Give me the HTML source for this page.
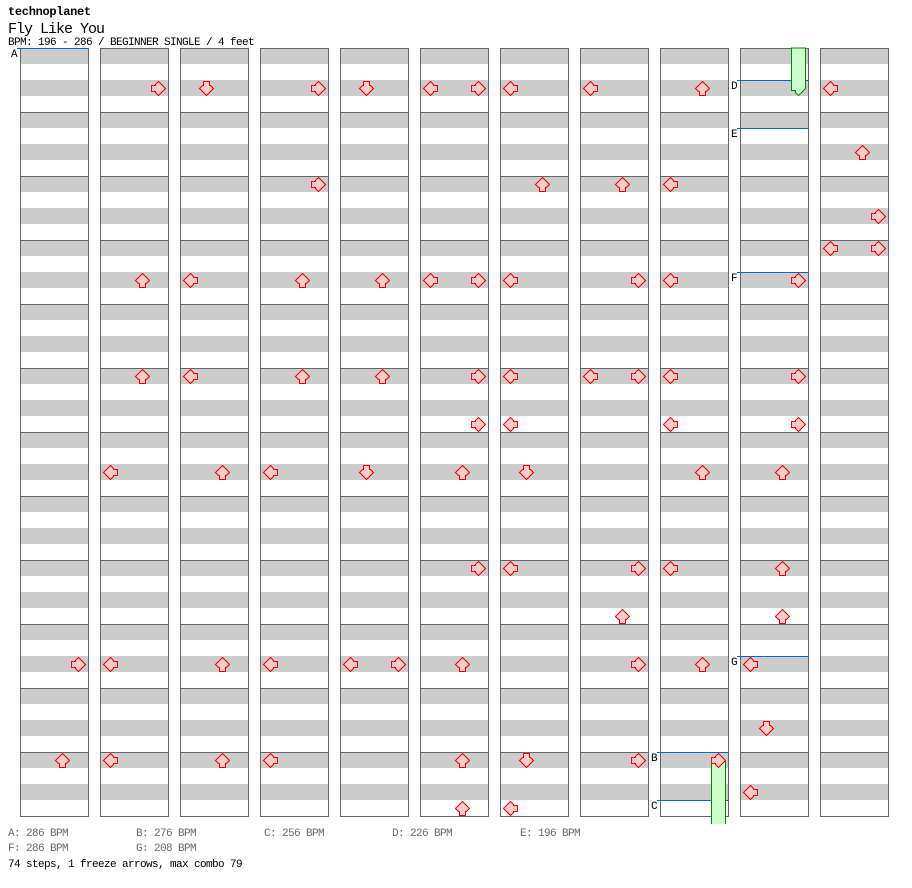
<!DOCTYPE html>
<html><head><meta charset="utf-8"><style>
html,body{margin:0;padding:0;background:#fff;}
svg{display:block;}
text{font-family:"Liberation Mono",monospace;}
</style></head><body>
<svg width="912" height="888" viewBox="0 0 912 888" xmlns="http://www.w3.org/2000/svg">
<defs>
<polygon id="U" points="7.5,0.5 14.5,7.5 11.5,10.5 10.5,10.5 10.5,14.5 4.5,14.5 4.5,10.5 3.5,10.5 0.5,7.5" fill="#ffcccc" stroke="#ff0000" stroke-width="1" shape-rendering="crispEdges"/>
<polygon id="D" points="7.5,14.5 0.5,7.5 3.5,4.5 4.5,4.5 4.5,0.5 10.5,0.5 10.5,4.5 11.5,4.5 14.5,7.5" fill="#ffcccc" stroke="#ff0000" stroke-width="1" shape-rendering="crispEdges"/>
<polygon id="L" points="0.5,7.5 7.5,0.5 10.5,3.5 10.5,4.5 14.5,4.5 14.5,10.5 10.5,10.5 10.5,11.5 7.5,14.5" fill="#ffcccc" stroke="#ff0000" stroke-width="1" shape-rendering="crispEdges"/>
<polygon id="R" points="14.5,7.5 7.5,14.5 4.5,11.5 4.5,10.5 0.5,10.5 0.5,4.5 4.5,4.5 4.5,3.5 7.5,0.5" fill="#ffcccc" stroke="#ff0000" stroke-width="1" shape-rendering="crispEdges"/>
<g id="col" shape-rendering="crispEdges">
<rect x="0" y="48" width="68" height="768" fill="#fff"/>
<g fill="#cccccc">
<rect x="0" y="48" width="68" height="16"/><rect x="0" y="80" width="68" height="16"/>
<rect x="0" y="112" width="68" height="16"/><rect x="0" y="144" width="68" height="16"/>
<rect x="0" y="176" width="68" height="16"/><rect x="0" y="208" width="68" height="16"/>
<rect x="0" y="240" width="68" height="16"/><rect x="0" y="272" width="68" height="16"/>
<rect x="0" y="304" width="68" height="16"/><rect x="0" y="336" width="68" height="16"/>
<rect x="0" y="368" width="68" height="16"/><rect x="0" y="400" width="68" height="16"/>
<rect x="0" y="432" width="68" height="16"/><rect x="0" y="464" width="68" height="16"/>
<rect x="0" y="496" width="68" height="16"/><rect x="0" y="528" width="68" height="16"/>
<rect x="0" y="560" width="68" height="16"/><rect x="0" y="592" width="68" height="16"/>
<rect x="0" y="624" width="68" height="16"/><rect x="0" y="656" width="68" height="16"/>
<rect x="0" y="688" width="68" height="16"/><rect x="0" y="720" width="68" height="16"/>
<rect x="0" y="752" width="68" height="16"/><rect x="0" y="784" width="68" height="16"/>
</g>
<g fill="#666666">
<rect x="0" y="112" width="68" height="1"/><rect x="0" y="176" width="68" height="1"/>
<rect x="0" y="240" width="68" height="1"/><rect x="0" y="304" width="68" height="1"/>
<rect x="0" y="368" width="68" height="1"/><rect x="0" y="432" width="68" height="1"/>
<rect x="0" y="496" width="68" height="1"/><rect x="0" y="560" width="68" height="1"/>
<rect x="0" y="624" width="68" height="1"/><rect x="0" y="688" width="68" height="1"/>
<rect x="0" y="752" width="68" height="1"/>
</g>
<rect x="0.5" y="48.5" width="68" height="768" fill="none" stroke="#666666" stroke-width="1"/>
</g>
</defs>

<text x="8" y="15" font-size="12" font-weight="bold" letter-spacing="-0.3" fill="#000">technoplanet</text>
<text x="8" y="33" font-size="15" letter-spacing="-1" fill="#000">Fly Like You</text>
<text x="8" y="45" font-size="11" letter-spacing="-0.6" fill="#000">BPM: 196 - 286 / BEGINNER SINGLE / 4 feet</text>

<use href="#col" x="20" y="0"/>
<use href="#col" x="100" y="0"/>
<use href="#col" x="180" y="0"/>
<use href="#col" x="260" y="0"/>
<use href="#col" x="340" y="0"/>
<use href="#col" x="420" y="0"/>
<use href="#col" x="500" y="0"/>
<use href="#col" x="580" y="0"/>
<use href="#col" x="660" y="0"/>
<use href="#col" x="740" y="0"/>
<use href="#col" x="820" y="0"/>

<g fill="#0066cc" shape-rendering="crispEdges">
<rect x="17" y="48" width="71" height="1"/>
<rect x="737" y="80" width="71" height="1"/>
<rect x="737" y="128" width="71" height="1"/>
<rect x="737" y="272" width="71" height="1"/>
<rect x="737" y="656" width="71" height="1"/>
<rect x="657" y="752" width="71" height="1"/>
<rect x="657" y="800" width="71" height="1"/>
</g>
<g font-size="11" letter-spacing="-0.6" fill="#000">
<text x="11" y="57">A</text>
<text x="731" y="89">D</text>
<text x="731" y="137">E</text>
<text x="731" y="281">F</text>
<text x="731" y="665">G</text>
<text x="651" y="761">B</text>
<text x="651" y="809">C</text>
</g>

<rect x="711" y="760" width="15" height="64" fill="#ccffcc"/>
<polyline points="711.5,760 711.5,824" fill="none" stroke="#008800" stroke-width="1"/>
<polyline points="725.5,760 725.5,824" fill="none" stroke="#008800" stroke-width="1"/>
<polygon points="791.5,48 805.5,48 805.5,88.5 798.5,95.5 795.5,92.5 795.5,90.5 791.5,90.5" fill="#ccffcc" stroke="#008800" stroke-width="1"/>

<use href="#R" x="71" y="657"/><use href="#U" x="55" y="753"/>

<use href="#R" x="151" y="81"/><use href="#U" x="135" y="273"/><use href="#U" x="135" y="369"/>
<use href="#L" x="103" y="465"/><use href="#L" x="103" y="657"/><use href="#L" x="103" y="753"/>

<use href="#D" x="199" y="81"/><use href="#L" x="183" y="273"/><use href="#L" x="183" y="369"/>
<use href="#U" x="215" y="465"/><use href="#U" x="215" y="657"/><use href="#U" x="215" y="753"/>

<use href="#R" x="311" y="81"/><use href="#R" x="311" y="177"/><use href="#U" x="295" y="273"/>
<use href="#U" x="295" y="369"/><use href="#L" x="263" y="465"/><use href="#L" x="263" y="657"/>
<use href="#L" x="263" y="753"/>

<use href="#D" x="359" y="81"/><use href="#U" x="375" y="273"/><use href="#U" x="375" y="369"/>
<use href="#D" x="359" y="465"/><use href="#L" x="343" y="657"/><use href="#R" x="391" y="657"/>

<use href="#L" x="423" y="81"/><use href="#R" x="471" y="81"/><use href="#L" x="423" y="273"/>
<use href="#R" x="471" y="273"/><use href="#R" x="471" y="369"/><use href="#R" x="471" y="417"/>
<use href="#U" x="455" y="465"/><use href="#R" x="471" y="561"/><use href="#U" x="455" y="657"/>
<use href="#U" x="455" y="753"/><use href="#U" x="455" y="801"/>

<use href="#L" x="503" y="81"/><use href="#U" x="535" y="177"/><use href="#L" x="503" y="273"/>
<use href="#L" x="503" y="369"/><use href="#L" x="503" y="417"/><use href="#D" x="519" y="465"/>
<use href="#L" x="503" y="561"/><use href="#D" x="519" y="753"/><use href="#L" x="503" y="801"/>

<use href="#L" x="583" y="81"/><use href="#U" x="615" y="177"/><use href="#R" x="631" y="273"/>
<use href="#L" x="583" y="369"/><use href="#R" x="631" y="369"/><use href="#R" x="631" y="561"/>
<use href="#U" x="615" y="609"/><use href="#R" x="631" y="657"/><use href="#R" x="631" y="753"/>

<use href="#U" x="695" y="81"/><use href="#L" x="663" y="177"/><use href="#L" x="663" y="273"/>
<use href="#L" x="663" y="369"/><use href="#L" x="663" y="417"/><use href="#U" x="695" y="465"/>
<use href="#L" x="663" y="561"/><use href="#U" x="695" y="657"/><use href="#R" x="711" y="753"/>

<use href="#R" x="791" y="273"/><use href="#R" x="791" y="369"/><use href="#R" x="791" y="417"/>
<use href="#U" x="775" y="465"/><use href="#U" x="775" y="561"/><use href="#U" x="775" y="609"/>
<use href="#L" x="743" y="657"/><use href="#D" x="759" y="721"/><use href="#L" x="743" y="785"/>

<use href="#L" x="823" y="81"/><use href="#U" x="855" y="145"/><use href="#R" x="871" y="209"/>
<use href="#L" x="823" y="241"/><use href="#R" x="871" y="241"/>

<g font-size="11" letter-spacing="-0.6" fill="#6a6a6a">
<text x="8" y="836">A: 286 BPM</text>
<text x="136" y="836">B: 276 BPM</text>
<text x="264" y="836">C: 256 BPM</text>
<text x="392" y="836">D: 226 BPM</text>
<text x="520" y="836">E: 196 BPM</text>
<text x="8" y="851">F: 286 BPM</text>
<text x="136" y="851">G: 208 BPM</text>
</g>
<text x="8" y="867" font-size="11" letter-spacing="-0.6" fill="#000">74 steps, 1 freeze arrows, max combo 79</text>
</svg>
</body></html>
